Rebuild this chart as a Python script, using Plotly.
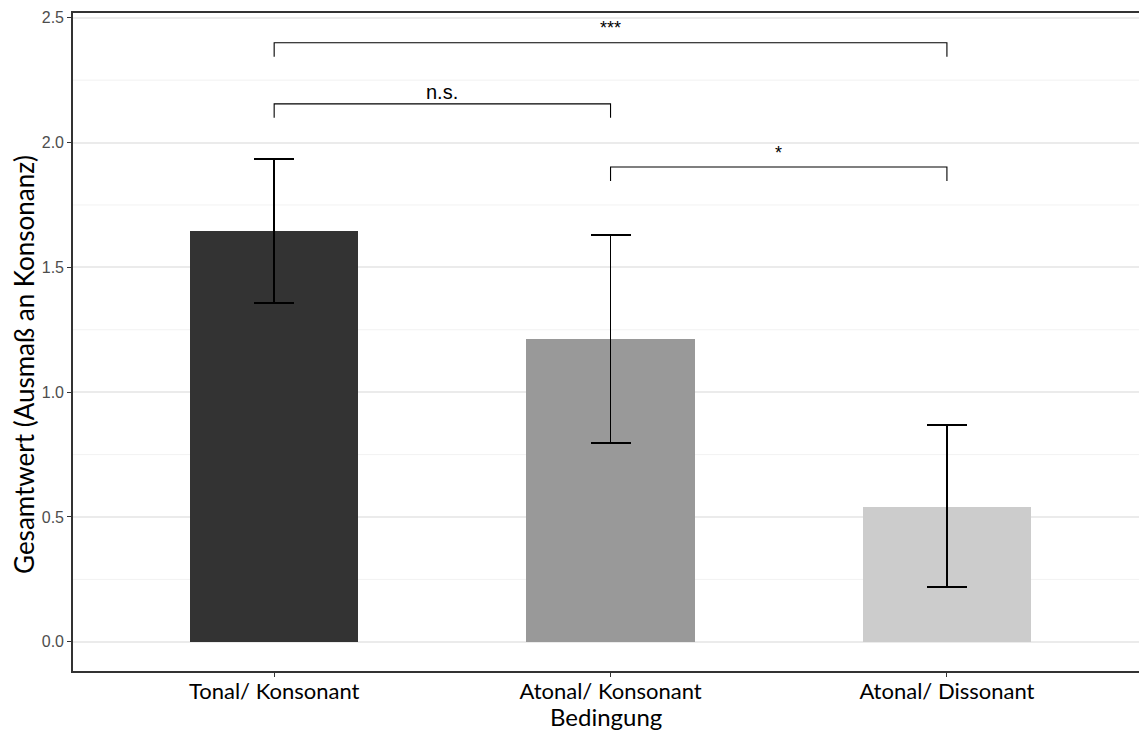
import plotly.graph_objects as go

# Condition means with error-bar bounds
conditions = ["Tonal/ Konsonant", "Atonal/ Konsonant", "Atonal/ Dissonant"]
means = [1.645, 1.212, 0.542]
upper = [1.935, 1.630, 0.867]
lower = [1.358, 0.795, 0.218]
bar_colors = ["#333333", "#999999", "#cccccc"]

# Significance comparisons: (from index, to index, bracket height, label, label height)
comp_from = [0, 0, 1]
comp_to = [2, 1, 2]
comp_y = [2.40, 2.155, 1.902]
comp_label = ["***", "n.s.", "*"]
comp_label_y = [2.459, 2.201, 1.957]
comp_size = [18, 20, 18]
leg_drop = 0.056

x = list(range(len(conditions)))
err_plus = [u - m for u, m in zip(upper, means)]
err_minus = [m - l for m, l in zip(means, lower)]

fig = go.Figure()
fig.add_trace(go.Bar(
    x=x, y=means, width=0.5,
    marker=dict(color=bar_colors, line=dict(width=0)),
    error_y=dict(type="data", symmetric=False, array=err_plus, arrayminus=err_minus,
                 color="black", thickness=1.8, width=20),
    showlegend=False,
))

shapes = []
annotations = []
for a, b, yv, lab, ly, sz in zip(comp_from, comp_to, comp_y, comp_label, comp_label_y, comp_size):
    shapes.append(dict(
        type="path", xref="x", yref="y",
        path=f"M {a} {yv - leg_drop} L {a} {yv} L {b} {yv} L {b} {yv - leg_drop}",
        line=dict(color="black", width=1.1),
    ))
    annotations.append(dict(
        x=(a + b) / 2, y=ly, xref="x", yref="y", text=lab, showarrow=False,
        yanchor="middle",
        font=dict(family="Liberation Sans, Arial, sans-serif", size=sz, color="black"),
    ))

# axis titles
title_font = dict(family="Lato, sans-serif", color="black")
annotations.append(dict(
    text="Bedingung", xref="paper", yref="paper", x=0.5, y=-0.069,
    xanchor="center", yanchor="middle", showarrow=False,
    font=dict(size=24, **title_font),
))
annotations.append(dict(
    text="Gesamtwert (Ausmaß an Konsonanz)", xref="paper", yref="paper",
    x=-0.046, y=0.4666, xanchor="center", yanchor="middle", textangle=-90,
    showarrow=False, font=dict(size=26, **title_font),
))

# minor grid lines between labelled ticks
for v in [0.25, 0.75, 1.25, 1.75, 2.25]:
    shapes.append(dict(type="line", xref="paper", yref="y", x0=0, x1=1, y0=v, y1=v,
                       line=dict(color="#f2f2f2", width=1), layer="below"))

fig.update_layout(
    width=1139, height=733,
    margin=dict(l=73, r=0, t=13, b=62, autoexpand=False),
    plot_bgcolor="white", paper_bgcolor="white",
    shapes=shapes, annotations=annotations,
    bargap=0,
)
fig.update_xaxes(
    tickvals=x, ticktext=conditions, range=[-0.598, 2.571],
    showgrid=False, zeroline=False,
    showline=True, linecolor="#333333", linewidth=1.6, mirror=True,
    ticks="outside", ticklen=4, tickcolor="#333333", ticklabelstandoff=-4,
    tickfont=dict(family="Lato, sans-serif", size=22, color="black"),
)
fig.update_yaxes(
    range=[-0.117, 2.519], tickvals=[0, 0.5, 1.0, 1.5, 2.0, 2.5],
    ticktext=["0.0", "0.5", "1.0", "1.5", "2.0", "2.5"],
    showgrid=True, gridcolor="#ebebeb", gridwidth=1.5, zeroline=False,
    showline=True, linecolor="#333333", linewidth=1.6, mirror=False,
    ticks="outside", ticklen=4, tickcolor="#333333",
    tickfont=dict(family="Liberation Sans, Arial, sans-serif", size=16, color="#4d4d4d"),
)

fig.write_html("out.html")
